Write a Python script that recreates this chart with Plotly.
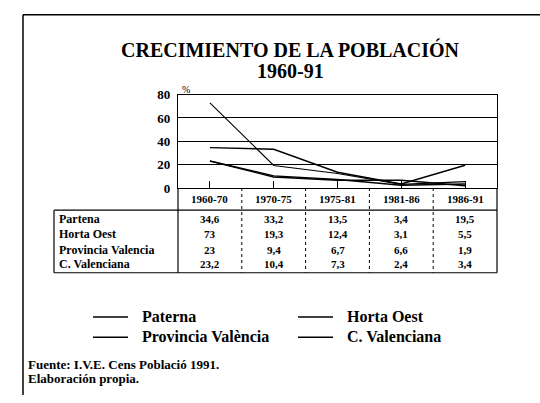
import plotly.graph_objects as go

# datos
periodos = ["1960-70", "1970-75", "1975-81", "1981-86", "1986-91"]
series = ["Paterna", "Horta Oest", "Provincia València", "C. Valenciana"]
etiquetas_tabla = ["Partena", "Horta Oest", "Provincia Valencia", "C. Valenciana"]
paterna = [34.6, 33.2, 13.5, 3.4, 19.5]
horta_oest = [73, 19.3, 12.4, 3.1, 5.5]
provincia = [23, 9.4, 6.7, 6.6, 1.9]
c_valenciana = [23.2, 10.4, 7.3, 2.4, 3.4]
valores = [paterna, horta_oest, provincia, c_valenciana]
y_ticks = [0, 20, 40, 60, 80]

W, H = 540, 403
SERIF = "Liberation Serif"


def fx(px):
    return px / W


def fy(py):
    return 1 - py / H


def fmt(v):
    return (f"{v:g}").replace(".", ",")


def texto(x, y, t, size, xanchor="center", xref="paper", **font):
    return dict(x=x, y=y, xref=xref, yref="paper", text=t, showarrow=False,
                xanchor=xanchor, yanchor="middle",
                font=dict(family=SERIF, size=size, color="black", **font))


# posiciones en pixeles
x0, x1 = 178, 497          # área del gráfico
y_top, y_zero = 91, 188    # 80 % y 0 %
y_head = 211               # fin de la fila de cabecera
y_bot = 276                # fin de la tabla
x_tab = 54                 # borde izquierdo de la tabla
filas_y = [220, 236, 252, 267]

fig = go.Figure()
anchos = [1.4, 1.1, 1.4, 1.4]
for nombre, vals, w in zip(series, valores, anchos):
    fig.add_trace(go.Scatter(
        x=periodos, y=vals, mode="lines", name=nombre,
        line=dict(color="black", width=w),
        showlegend=False,
    ))

shapes = []
ann = []

# marco de la página
shapes.append(dict(type="line", xref="paper", yref="paper",
                   x0=fx(23), x1=fx(540), y0=fy(8), y1=fy(8),
                   line=dict(color="black", width=1.5)))
shapes.append(dict(type="line", xref="paper", yref="paper",
                   x0=fx(23), x1=fx(23), y0=fy(8), y1=fy(403),
                   line=dict(color="black", width=1.5)))

# tabla
line_k = dict(color="black", width=1.2)
shapes.append(dict(type="line", xref="paper", yref="paper",
                   x0=fx(x0), x1=fx(x0), y0=fy(y_zero), y1=fy(y_bot), line=line_k))
shapes.append(dict(type="line", xref="paper", yref="paper",
                   x0=fx(x1), x1=fx(x1), y0=fy(y_zero), y1=fy(y_bot), line=line_k))
shapes.append(dict(type="line", xref="paper", yref="paper",
                   x0=fx(x_tab), x1=fx(x1), y0=fy(y_head), y1=fy(y_head), line=line_k))
shapes.append(dict(type="line", xref="paper", yref="paper",
                   x0=fx(x_tab), x1=fx(x1), y0=fy(y_bot), y1=fy(y_bot), line=line_k))
shapes.append(dict(type="line", xref="paper", yref="paper",
                   x0=fx(x_tab), x1=fx(x_tab), y0=fy(y_head), y1=fy(y_bot), line=line_k))
for i in range(len(periodos) - 1):
    shapes.append(dict(type="line", xref="x", yref="paper",
                       x0=i + 0.5, x1=i + 0.5, y0=fy(y_zero), y1=fy(y_bot),
                       line=dict(color="black", width=1, dash="dot")))

for i, p in enumerate(periodos):
    ann.append(texto(p, fy(199), p, 11, xref="x", weight="bold"))
    for j, vals in enumerate(valores):
        ann.append(texto(p, fy(filas_y[j]), fmt(vals[i]), 11, xref="x", weight="bold"))
for j, lab in enumerate(etiquetas_tabla):
    ann.append(texto(fx(57), fy(filas_y[j]), lab, 12, xanchor="left", weight="bold"))

# título
ann.append(texto(fx(290), fy(44), "CRECIMIENTO DE LA POBLACIÓN", 20, weight="bold"))
ann.append(texto(fx(290), fy(66), "1960-91", 20, weight="bold"))
ann.append(texto(fx(180), fy(86), "%", 10, xanchor="left"))

# leyenda
leg_pos = [(93, 321), (298, 321), (93, 342), (298, 342)]
for (lx, ly), nombre, w in zip(leg_pos, series, anchos):
    shapes.append(dict(type="line", xref="paper", yref="paper",
                       x0=fx(lx), x1=fx(lx + 35), y0=fy(ly + 1), y1=fy(ly + 1),
                       line=dict(color="black", width=w + 0.2)))
    ann.append(texto(fx(lx + 47), fy(ly), nombre, 16, xanchor="left", weight="bold"))

# fuente
ann.append(texto(fx(26), fy(371), "Fuente: I.V.E. Cens Població 1991.", 13,
                 xanchor="left", weight="bold"))
ann.append(texto(fx(26), fy(386), "Elaboración propia.", 13,
                 xanchor="left", weight="bold"))

fig.update_layout(
    width=W, height=H,
    margin=dict(l=0, r=0, t=0, b=0),
    paper_bgcolor="white", plot_bgcolor="white",
    shapes=shapes, annotations=ann,
    xaxis=dict(domain=[fx(x0), fx(x1)], type="category", range=[-0.5, 4.5],
               showgrid=False, showline=True, linecolor="black", linewidth=1.2,
               mirror=True, ticks="inside", ticklen=7, tickcolor="black",
               showticklabels=False, fixedrange=True),
    yaxis=dict(domain=[fy(y_zero), fy(y_top)], range=[0, 80], tickvals=y_ticks,
               showgrid=True, gridcolor="black", gridwidth=1, zeroline=False,
               showline=True, linecolor="black", linewidth=1.2, mirror=True,
               ticks="", ticklabelstandoff=4,
               tickfont=dict(family=SERIF, size=13, color="black", weight="bold"),
               fixedrange=True),
)

fig.write_html("out.html", config={"displayModeBar": False},
               post_script="document.body.style.margin='0';")
